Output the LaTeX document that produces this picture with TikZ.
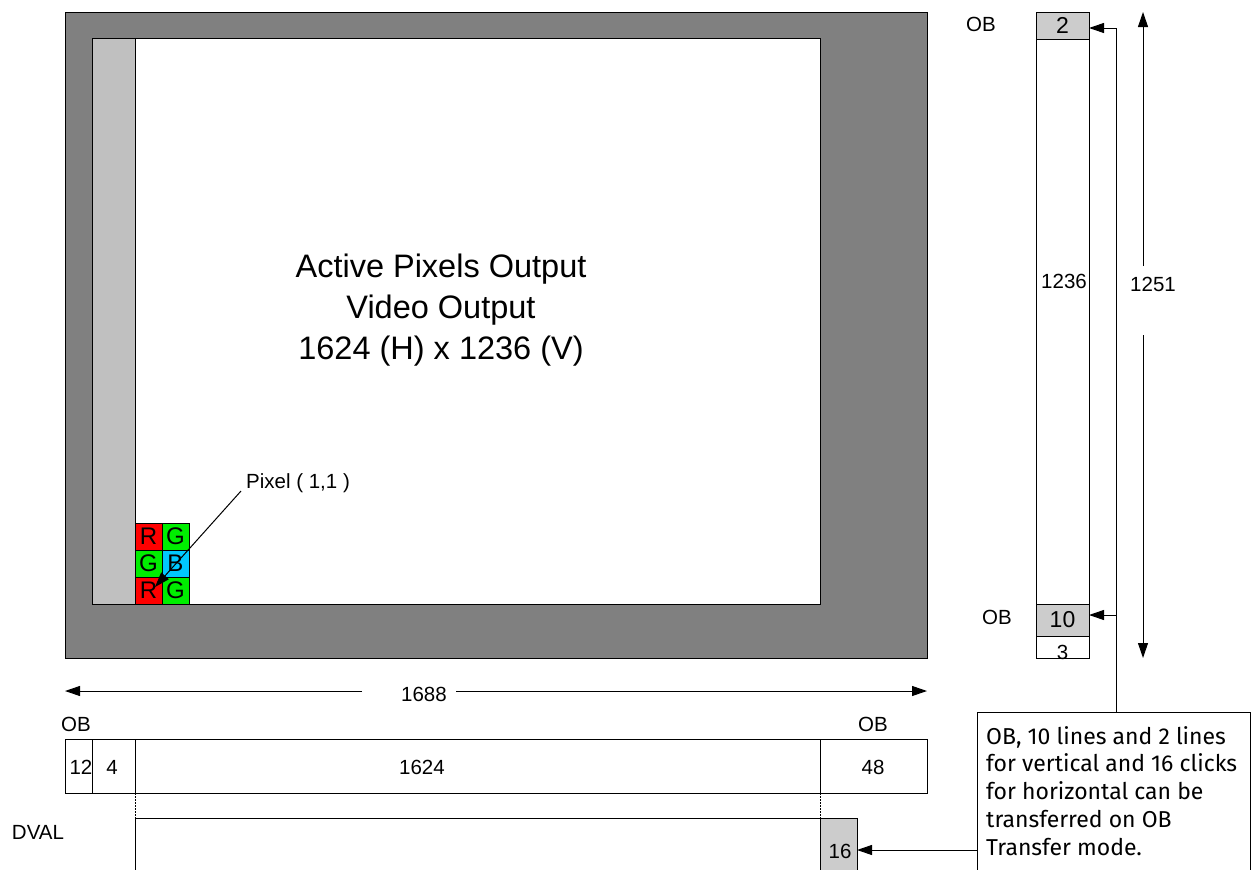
\documentclass[tikz,border=0pt]{standalone}
\usepackage{fontspec}
\setmainfont{Liberation Sans}
\newfontfamily\notefont{Fira Sans}
\usetikzlibrary{arrows.meta}
\definecolor{darkgr}{HTML}{808080}
\definecolor{stripgr}{HTML}{C0C0C0}
\definecolor{cellgr}{HTML}{CCCCCC}
\definecolor{pxred}{HTML}{FF0000}
\definecolor{pxgreen}{HTML}{00EE00}
\definecolor{pxblue}{HTML}{00C8FF}
\tikzset{
  box/.style={draw=black, line width=1pt, rectangle, inner sep=0pt, outer sep=0pt},
  lbl/.style={inner sep=0pt, font=\fontsize{20.5}{24}\selectfont},
  cell/.style={box, minimum width=27pt, minimum height=27pt, font=\fontsize{24}{24}\selectfont},
  conn/.style={line width=1pt, -{Triangle[length=15pt,width=10pt]}},
  plain/.style={line width=1pt},
  dots/.style={line width=0.8pt, dash pattern=on 1.5pt off 1.5pt},
}
\begin{document}
\begin{tikzpicture}[x=1pt,y=-1pt]
\useasboundingbox (0,0) rectangle (1253,870);
\clip (0,0) rectangle (1253,870);
% sensor frame
\node[box, fill=darkgr, minimum width=862pt, minimum height=646pt] (outer) at (496,335) {};
\node[box, fill=white, minimum width=728pt, minimum height=566pt] (inner) at (456,321) {};
\node[box, fill=stripgr, minimum width=43pt, minimum height=566pt] (strip) at (113.5,321) {};
\node[align=center, inner sep=0pt, font=\fontsize{32.5}{41}\selectfont] (title) at (441,310) {Active Pixels Output\\Video Output\\1624 (H) x 1236 (V)};
% pixel cells
\node[cell, fill=pxred]   (r1) at (148.5,536.5) {R};
\node[cell, fill=pxgreen] (g1) at (175.5,536.5) {G};
\node[cell, fill=pxgreen] (g2) at (148.5,563.5) {G};
\node[cell, fill=pxblue]  (b1) at (175.5,563.5) {B};
\node[cell, fill=pxred]   (r2) at (148.5,590.5) {R};
\node[cell, fill=pxgreen] (g3) at (175.5,590.5) {G};
\node[lbl, anchor=west] (pix) at (246,483) {Pixel ( 1,1 )};
\coordinate (pixs) at (241,491);
\coordinate (pixe) at (155,587);
\draw[conn] (pixs) -- (pixe);
% right column
\node[box, minimum width=53pt, minimum height=646pt] (col) at (1062.5,335) {};
\node[box, fill=cellgr, minimum width=53pt, minimum height=27pt, font=\fontsize{23}{24}\selectfont] (c2) at (1062.5,25.5) {2};
\node[box, fill=cellgr, minimum width=53pt, minimum height=32pt, font=\fontsize{23}{24}\selectfont] (c10) at (1062.5,620) {10};
\node[box, fill=white, minimum width=53pt, minimum height=22pt] (c3) at (1062.5,647) {};
\node[lbl] (t3) at (1062.5,652) {3};
\node[lbl] (t1236) at (1064,281) {1236};
\node[lbl] (obr1) at (981,24) {OB};
\node[lbl] (obr2) at (997,617) {OB};
% vertical dimension
\node[lbl] (d1251) at (1153,284) {1251};
\coordinate (v1) at (1143,266);
\coordinate (v1e) at (1143,12);
\coordinate (v2) at (1143,335);
\coordinate (v2e) at (1143,658);
\draw[conn] (v1) -- (v1e);
\draw[conn] (v2) -- (v2e);
% horizontal dimension
\node[lbl] (d1688) at (424,694) {1688};
\coordinate (h1) at (362,691);
\coordinate (h1e) at (65,691);
\coordinate (h2) at (456,691);
\coordinate (h2e) at (927,691);
\draw[conn] (h1) -- (h1e);
\draw[conn] (h2) -- (h2e);
% bottom bar
\node[box, minimum width=27pt, minimum height=54pt] (b12) at (78.5,766) {};
\node[box, minimum width=43pt, minimum height=54pt] (b4) at (113.5,766) {};
\node[box, minimum width=685pt, minimum height=54pt] (b1624) at (477.5,766) {};
\node[box, minimum width=107pt, minimum height=54pt] (b48) at (873.5,766) {};
\node[lbl] (t12) at (81,767) {12};
\node[lbl] (t4) at (112,767) {4};
\node[lbl] (t1624) at (422,767) {1624};
\node[lbl] (t48) at (873,767) {48};
\node[lbl] (obl) at (76,724) {OB};
\node[lbl] (obrr) at (873,724) {OB};
% DVAL
\node[lbl] (dval) at (38,832) {DVAL};
\coordinate (dv0) at (135,880);
\coordinate (dv1) at (135,818);
\coordinate (dv2) at (820,818);
\draw[plain] (dv0) -- (dv1) -- (dv2);
\draw[dots] (b1624.south west) -- (dv1);
\draw[dots] (b1624.south east) -- (dv2);
\node[box, fill=cellgr, minimum width=37pt, minimum height=60pt] (c16) at (838.5,848) {};
\node[lbl] (t16) at (840,851) {16};
% note
\node[box, fill=white, minimum width=273pt, minimum height=170pt] (note) at (1113.5,797) {};
\node[anchor=north west, align=left, inner sep=0pt, font=\notefont\fontsize{23}{27.8}\selectfont] (notetxt) at (986,726) {OB, 10 lines and 2 lines\\for vertical and 16 clicks\\for horizontal can be\\transferred on OB\\Transfer mode.};
\coordinate (nb) at (1116,712);
\coordinate (n10) at (1116,615);
\coordinate (n2) at (1116,28);
\draw[plain] (nb) -- (n2);
\draw[conn] (n2) -- (n2 -| c2.east);
\draw[conn] (n10) -- (n10 -| c10.east);
\coordinate (n16) at (977,850);
\draw[conn] (n16) -- (n16 -| c16.east);
\end{tikzpicture}
\end{document}
